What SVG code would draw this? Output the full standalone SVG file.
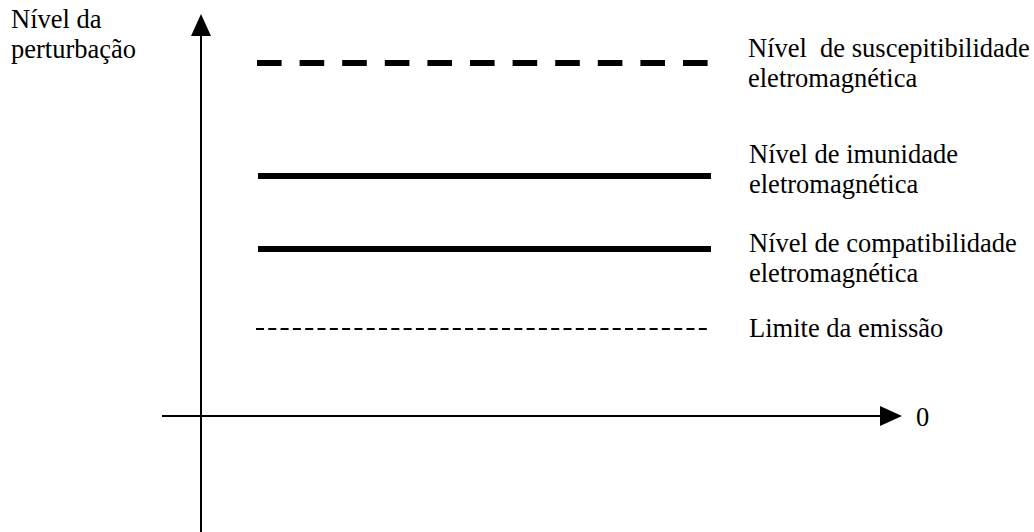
<svg xmlns="http://www.w3.org/2000/svg" width="1034" height="532" viewBox="0 0 1034 532">
  <style>
    .lbl { font-family: "Liberation Serif", "Times New Roman", serif; font-size: 26.5px; fill: #000; }
    .axis { stroke: #000; stroke-width: 2; fill: none; }
    .lvl { stroke: #000; fill: none; }
  </style>
  <rect width="1034" height="532" fill="#fff"/>

  <!-- axes -->
  <g id="axes">
    <line class="axis" x1="201" y1="532" x2="201" y2="34"/>
    <polygon points="201,14 191,36 211,36" fill="#000"/>
    <line class="axis" x1="162" y1="416" x2="882" y2="416"/>
    <polygon points="902,416 880,406 880,426" fill="#000"/>
  </g>

  <!-- level lines -->
  <g id="connectors">
    <line class="lvl" x1="257" y1="63" x2="712" y2="63" stroke-width="6" stroke-dasharray="24.6 18"/>
    <line class="lvl" x1="258" y1="176" x2="711" y2="176" stroke-width="6"/>
    <line class="lvl" x1="258" y1="249" x2="711" y2="249" stroke-width="6"/>
    <line class="lvl" x1="256" y1="329" x2="710" y2="329" stroke-width="2" stroke-dasharray="8 4.3"/>
  </g>

  <!-- labels -->
  <g id="axis-label">
    <text class="lbl" x="11" y="28">Nível da</text>
    <text class="lbl" x="11" y="58">perturbação</text>
  </g>
  <g id="susceptibility">
    <text class="lbl" x="748" y="57" xml:space="preserve">Nível  de suscepitibilidade</text>
    <text class="lbl" x="748" y="87">eletromagnética</text>
  </g>
  <g id="immunity">
    <text class="lbl" x="749" y="163">Nível de imunidade</text>
    <text class="lbl" x="749" y="193">eletromagnética</text>
  </g>
  <g id="compatibility">
    <text class="lbl" x="749" y="252">Nível de compatibilidade</text>
    <text class="lbl" x="749" y="282">eletromagnética</text>
  </g>
  <g id="emission">
    <text class="lbl" x="749" y="337">Limite da emissão</text>
  </g>
  <g id="origin">
    <text class="lbl" x="916" y="426">0</text>
  </g>
</svg>
